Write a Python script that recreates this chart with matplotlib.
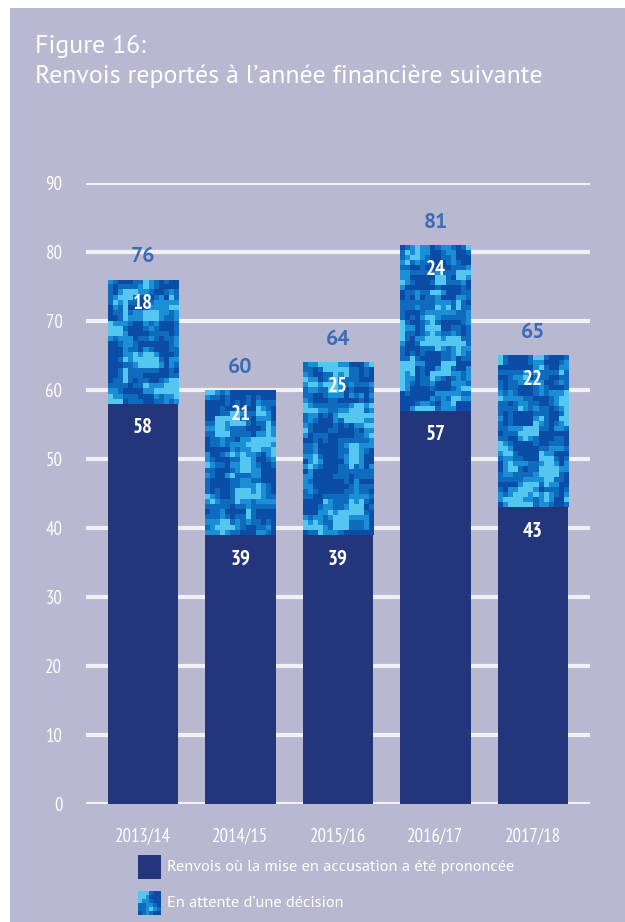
import numpy as np
import matplotlib
matplotlib.use("Agg")
import matplotlib.pyplot as plt
from matplotlib.patches import Rectangle
from matplotlib import font_manager

years = ["2013/14", "2014/15", "2015/16", "2016/17", "2017/18"]
prononcee = [58, 39, 39, 57, 43]
attente = [18, 21, 25, 24, 22]
totals = [76, 60, 64, 81, 65]
yticks = [0, 10, 20, 30, 40, 50, 60, 70, 80, 90]

title1 = "Figure 16:"
title2 = "Renvois reportés à l\u2019année financière suivante"
leg1 = "Renvois où la mise en accusation a été prononcée"
leg2 = "En attente d\u2019une décision"

names = {f.name for f in font_manager.fontManager.ttflist}


def pick(cands):
    for c in cands:
        if c in names:
            return c
    return "DejaVu Sans"


sfont = pick(["PT Sans", "Lato"])
nfont = pick(["PT Sans Narrow", "Asap Condensed", "Archivo Narrow", "Lato"])

BG = "#b8b8d0"
DARK = "#24367b"
GRID = "#f0f0f5"
TOTC = "#3b6cb5"
PAL = np.array([[0x0b, 0x4c, 0xa6], [0x0e, 0x6b, 0xbd], [0x1a, 0x8f, 0xd6], [0x55, 0xc6, 0xf0]]) / 255.0

fig = plt.figure(figsize=(6.25, 9.22), dpi=100, facecolor="white")
fig.patches.append(Rectangle((10 / 625, 0), 1, 1 - 8 / 922, transform=fig.transFigure,
                             facecolor=BG, edgecolor="none", zorder=-10))

ax = fig.add_axes([86 / 625, 1 - 804 / 922, 504 / 625, 621 / 922])
ax.set_facecolor("none")
for s in ax.spines.values():
    s.set_visible(False)
x = np.arange(len(years))
ax.set_yticks(yticks)
ax.set_yticklabels([str(v) for v in yticks], fontfamily=nfont, fontsize=13.5, color="white")
ax.tick_params(axis="y", length=0, pad=17)
ax.set_xticks(x)
ax.set_xticklabels(years, fontfamily=nfont, fontsize=13.5, color="white")
ax.tick_params(axis="x", length=0, pad=17)
for v in yticks:
    ax.axhline(v, color=GRID, lw=3.0, zorder=1)

W = 0.72
ax.bar(x, prononcee, width=W, color=DARK, zorder=3)
top = ax.bar(x, attente, width=W, bottom=prononcee, color="none", zorder=3)


def texture(nx, ny, seed):
    rng = np.random.default_rng(seed)
    a = rng.random((ny + 4, nx + 4))
    b = np.zeros((ny, nx))
    for i in range(3):
        for j in range(3):
            b += a[i:i + ny, j:j + nx] / 9.0
    q = np.digitize(b, np.quantile(b, [0.3, 0.6, 0.82]))
    return PAL[q]


for i, r in enumerate(top):
    x0, y0 = r.get_x(), r.get_y()
    w, h = r.get_width(), r.get_height()
    ny = max(4, int(h * 6.9 / 5))
    im = ax.imshow(texture(14, ny, i + 7), extent=(x0, x0 + w, y0, y0 + h),
                   aspect="auto", interpolation="nearest", zorder=3)
    im.set_clip_path(r)
ax.set_xlim(-0.585, 4.585)
ax.set_ylim(0, 90)

for i in range(len(years)):
    ax.text(x[i], prononcee[i] - 3.5, str(prononcee[i]), ha="center", va="center",
            color="white", fontweight="bold", fontsize=15, fontfamily=nfont, zorder=5)
    ax.text(x[i], totals[i] - 3.5, str(attente[i]), ha="center", va="center",
            color="white", fontweight="bold", fontsize=15, fontfamily=nfont, zorder=5)
    ax.text(x[i], totals[i] + 3.3, str(totals[i]), ha="center", va="center",
            color=TOTC, fontweight="bold", fontsize=15.5, fontfamily=sfont, zorder=5,
            clip_on=False)

fig.text(35 / 625, 1 - 53 / 922, title1, color="white", fontsize=18.6, fontfamily=sfont,
         ha="left", va="baseline")
fig.text(35 / 625, 1 - 83 / 922, title2, color="white", fontsize=18.6, fontfamily=sfont,
         ha="left", va="baseline")

# legend
fig.patches.append(Rectangle((138 / 625, 1 - 879 / 922), 23 / 625, 24 / 922,
                             transform=fig.transFigure, facecolor=DARK, edgecolor="none"))
lax = fig.add_axes([138 / 625, 1 - 915 / 922, 23 / 625, 24 / 922])
lax.imshow(texture(6, 6, 42), interpolation="nearest", aspect="auto")
lax.axis("off")
fig.text(167 / 625, 1 - 867 / 922, leg1, color="white", fontsize=11.8, fontfamily=sfont,
         ha="left", va="center")
fig.text(167 / 625, 1 - 903 / 922, leg2, color="white", fontsize=11.8, fontfamily=sfont,
         ha="left", va="center")

fig.savefig("out.png", dpi=100, facecolor="white")
